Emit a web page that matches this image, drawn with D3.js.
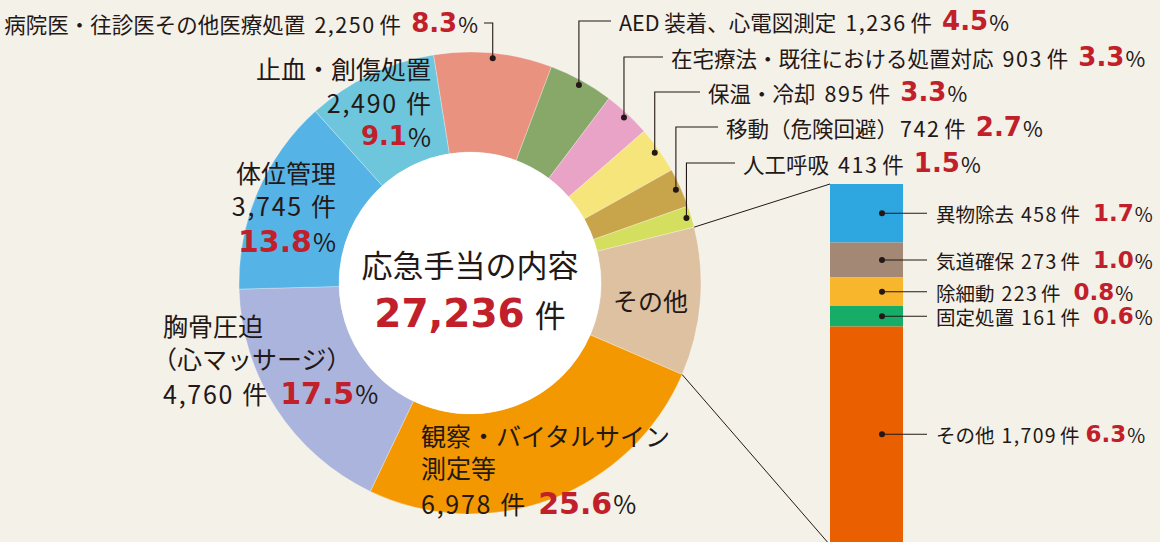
<!DOCTYPE html>
<html lang="ja">
<head>
<meta charset="utf-8">
<script src="https://cdn.jsdelivr.net/npm/d3@7"></script>
<style>
  html, body { margin: 0; padding: 0; background: #f4f1e9; }
  svg { display: block; font-family: "Noto Sans CJK JP", "Noto Sans", sans-serif; }
</style>
</head>
<body>
<svg id="chart" width="1160" height="542"></svg>
<script>
// 応急手当の内容 (donut, clockwise) + breakdown of "その他" (bar)
var categories = [
    "病院医・往診医その他医療処置",
    "AED 装着、心電図測定",
    "在宅療法・既往における処置対応",
    "保温・冷却",
    "移動（危険回避）",
    "人工呼吸",
    "その他",
    "観察・バイタルサイン\n測定等",
    "胸骨圧迫\n（心マッサージ）",
    "体位管理",
    "止血・創傷処置"
];
var otherCategories = ["異物除去", "気道確保", "除細動", "固定処置", "その他"];
var otherCounts = [458, 273, 223, 161, 1709];
var otherPercents = [1.7, 1.0, 0.8, 0.6, 6.3];
var counts = [2250, 1236, 903, 895, 742, 413, d3.sum(otherCounts), 6978, 4760, 3745, 2490];
var percents = [8.3, 4.5, 3.3, 3.3, 2.7, 1.5, 10.4, 25.6, 17.5, 13.8, 9.1];
var totalCount = 27236;

var sliceColors = ["#e8927f", "#87a869", "#e8a3c6", "#f5e57b", "#c8a54a", "#d4de5f",
                   "#dec1a0", "#f39800", "#abb4dc", "#56b3e6", "#6ec6dc"];
var otherColors = ["#2ea7e0", "#a48876", "#f8b62d", "#15ad68", "#ea6000"];
var red = "#c1202b", ink = "#231815";
var numFont = "'DejaVu Sans', 'Noto Sans CJK JP', sans-serif";

var W = 1160, H = 542;
var cx = 470, cy = 283, R = 231, r0 = 131;
var startAngle = -9.1 * Math.PI / 180;
var fmt = d3.format(",");

var svg = d3.select("#chart");
svg.append("rect").attr("width", W).attr("height", H).attr("fill", "#f4f1e9");

var slices = categories.map(function(c, i) {
    return { name: c, count: counts[i], pct: percents[i], color: sliceColors[i] };
});
var pie = d3.pie().sort(null).value(function(d) { return d.count; })
    .startAngle(startAngle).endAngle(startAngle + 2 * Math.PI);
var arcs = pie(slices);
var arc = d3.arc().innerRadius(r0).outerRadius(R);

var donut = svg.append("g").attr("transform", "translate(" + cx + "," + cy + ")");
donut.selectAll("path.slice")
    .data(arcs)
    .enter().append("path")
    .attr("class", "slice")
    .attr("d", arc)
    .attr("fill", function(d) { return d.data.color; })
    .attr("stroke", "#ffffff")
    .attr("stroke-opacity", 0.35)
    .attr("stroke-width", 0.8);
donut.append("circle").attr("r", r0).attr("fill", "#ffffff");

function polar(a, rr) {
    return [cx + rr * Math.sin(a), cy - rr * Math.cos(a)];
}

function newText(g, x, y, size, anchor) {
    return g.append("text")
        .attr("x", x).attr("y", y)
        .attr("dominant-baseline", "central")
        .attr("text-anchor", anchor || "start")
        .attr("font-size", size)
        .attr("fill", ink);
}
function addCount(t, c, dx, unitDx) {
    t.append("tspan").attr("dx", dx).attr("letter-spacing", "0.07em").text(fmt(c));
    t.append("tspan").attr("dx", unitDx).text("件");
}
function addPct(t, pct, size, dx) {
    t.append("tspan").attr("dx", dx)
        .attr("font-family", numFont).attr("font-weight", 700)
        .attr("font-size", size).attr("fill", red)
        .text(pct.toFixed(1));
    t.append("tspan").attr("dx", 1).text("%");
}

// ---- leader labels (small slices, top right) ----
var leaderLayout = [
    { i: 0, ty: 23, tx: 478, anchor: "end" },
    { i: 1, ty: 21, tx: 619 },
    { i: 2, ty: 57, tx: 671 },
    { i: 3, ty: 92, tx: 708 },
    { i: 4, ty: 127, tx: 726 },
    { i: 5, ty: 163, tx: 743 }
];

var leaders = svg.append("g");
leaderLayout.forEach(function(l) {
    var d = arcs[l.i];
    var mid = (d.startAngle + d.endAngle) / 2;
    var p = polar(mid, R - 5);
    var lineEnd = l.anchor === "end" ? l.tx + 6 : l.tx - 8;
    leaders.append("path")
        .attr("d", "M" + p[0] + "," + p[1] + "V" + l.ty + "H" + lineEnd)
        .attr("fill", "none").attr("stroke", ink).attr("stroke-width", 1.1);
    leaders.append("circle").attr("cx", p[0]).attr("cy", p[1]).attr("r", 3).attr("fill", ink);

    var name = d.data.name;
    var t = newText(leaders, l.tx, l.ty, 21.5, l.anchor);
    t.append("tspan").text(name);
    addCount(t, d.data.count, /）$/.test(name) ? 2 : 9, 4);
    addPct(t, d.data.pct, 26, 10);
});

// ---- labels placed on / beside the big slices ----
var blockLayout = [
    { i: 10, x: 431, ys: [68, 102, 136], anchor: "end", split: true, pctSize: 26 },
    { i: 9, x: 336, ys: [172, 205, 241], anchor: "end", split: true, pctSize: 30 },
    { i: 8, x: 163, ys: [325, 358, 393], anchor: "start", pctSize: 30 },
    { i: 7, x: 421, ys: [435, 467, 503], anchor: "start", pctSize: 30 }
];

var blocks = svg.append("g");
blockLayout.forEach(function(b) {
    var d = arcs[b.i].data;
    var row = 0;
    d.name.split("\n").forEach(function(s) {
        // full-width opening bracket hangs into the margin
        var hang = /^（/.test(s) ? -11 : 0;
        newText(blocks, b.x + hang, b.ys[row++], 25, b.anchor).text(s);
    });
    var t = newText(blocks, b.x, b.ys[row], 25, b.anchor);
    addCount(t, d.count, 0, 8);
    if (b.split) {
        t = newText(blocks, b.x, b.ys[row + 1], 25, b.anchor);
        addPct(t, d.pct, b.pctSize, 0);
    } else {
        addPct(t, d.pct, b.pctSize, 13);
    }
});

newText(blocks, 613, 300, 25).text(arcs[6].data.name);

// ---- centre ----
newText(svg, cx, 263, 31, "middle").text("応急手当の内容");
var tot = newText(svg, cx, 313, 31, "middle");
tot.append("tspan")
    .attr("font-family", numFont).attr("font-weight", 700)
    .attr("font-size", 39).attr("fill", red)
    .text(fmt(totalCount));
tot.append("tspan").attr("dx", 10).text("件");

// ---- breakdown bar for "その他" ----
var otherTotal = d3.sum(otherCounts);
var barY = d3.scaleLinear().domain([0, otherTotal]).range([184, 545]);
var cum = [0].concat(Array.from(d3.cumsum(otherCounts)));
var barX = 830, barW = 73;

var o = arcs[6];
var pTop = polar(o.startAngle, R), pBot = polar(o.endAngle, R);
svg.append("line")
    .attr("x1", pTop[0]).attr("y1", pTop[1]).attr("x2", barX).attr("y2", barY(0))
    .attr("stroke", ink).attr("stroke-width", 1);
svg.append("line")
    .attr("x1", pBot[0]).attr("y1", pBot[1]).attr("x2", barX).attr("y2", barY(otherTotal))
    .attr("stroke", ink).attr("stroke-width", 1);

var bar = svg.append("g");
bar.selectAll("rect")
    .data(otherCounts)
    .enter().append("rect")
    .attr("x", barX).attr("width", barW)
    .attr("y", function(d, i) { return barY(cum[i]); })
    .attr("height", function(d, i) { return barY(cum[i + 1]) - barY(cum[i]); })
    .attr("fill", function(d, i) { return otherColors[i]; });

otherCounts.forEach(function(c, i) {
    var yTop = barY(cum[i]);
    var yBot = Math.min(barY(cum[i + 1]), H);
    var ym = (yTop + yBot) / 2;
    var dx = barX + 52;
    bar.append("line").attr("x1", dx).attr("x2", 927).attr("y1", ym).attr("y2", ym)
        .attr("stroke", ink).attr("stroke-width", 1.1);
    bar.append("circle").attr("cx", dx).attr("cy", ym).attr("r", 3).attr("fill", ink);
    var t = newText(bar, 936, ym, 19.5);
    t.append("tspan").text(otherCategories[i]);
    addCount(t, c, 7, 3);
    addPct(t, otherPercents[i], 23, i === otherCounts.length - 1 ? 6 : 13);
});
</script>
</body>
</html>
